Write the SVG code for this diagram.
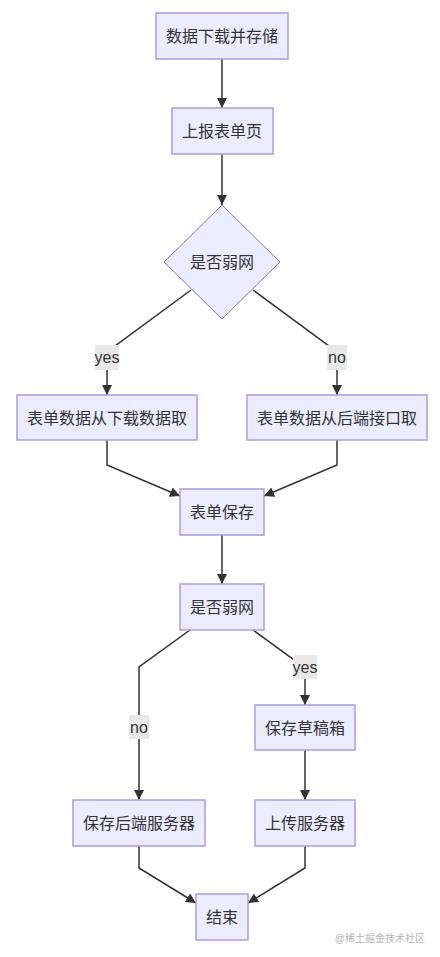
<svg xmlns="http://www.w3.org/2000/svg" width="440" height="957" viewBox="0 0 440 957">
<defs>
<style>
.node rect, .node polygon { fill: #ECECFF; stroke: #ab9ce3; stroke-width: 1.5; }
.node polygon { stroke: #9370DB; stroke-width: 1; }
text { font-family: "Liberation Sans", "Noto Sans CJK SC", sans-serif; font-size: 16px; fill: #333; text-anchor: middle; dominant-baseline: central; }
.edge { fill: none; stroke: #333; stroke-width: 1.5; }
.lbl rect { fill: #e8e8e8; stroke: none; }
.wm { font-size: 10px; fill: #b5b5b5; text-anchor: end; }
</style>
<marker id="arr" viewBox="0 0 10 10" refX="10" refY="5" markerWidth="10" markerHeight="10" markerUnits="userSpaceOnUse" orient="auto">
<path d="M0,0 L10,5 L0,10 z" fill="#333"/>
</marker>
</defs>
<rect width="440" height="957" fill="#fff"/>
<g id="edges">
<path class="edge" d="M222,59 L222,108" marker-end="url(#arr)"/>
<path class="edge" d="M222,154 L222,205" marker-end="url(#arr)"/>
<path class="edge" d="M191,290 L107,352 L107,395" marker-end="url(#arr)"/>
<path class="edge" d="M253,290 L337,352 L337,395" marker-end="url(#arr)"/>
<path class="edge" d="M107,440 L107,465 L180,496" marker-end="url(#arr)"/>
<path class="edge" d="M337,440 L337,465 L264,496" marker-end="url(#arr)"/>
<path class="edge" d="M222,535 L222,584" marker-end="url(#arr)"/>
<path class="edge" d="M190,630 L139,667 L139,800" marker-end="url(#arr)"/>
<path class="edge" d="M253,630 L305,668 L305,705" marker-end="url(#arr)"/>
<path class="edge" d="M305,750 L305,800" marker-end="url(#arr)"/>
<path class="edge" d="M139,846 L139,868 L196,903" marker-end="url(#arr)"/>
<path class="edge" d="M305,846 L305,868 L248,903" marker-end="url(#arr)"/>
<g class="lbl"><rect x="95" y="345" width="24" height="25"/><text x="107" y="357">yes</text></g>
<g class="lbl"><rect x="327" y="345" width="20" height="25"/><text x="337" y="357">no</text></g>
<g class="lbl"><rect x="129" y="715" width="20" height="24"/><text x="139" y="727">no</text></g>
<g class="lbl"><rect x="293" y="655" width="24" height="24"/><text x="305" y="667">yes</text></g>
</g>
<g id="n1" class="node"><rect x="156" y="13" width="132" height="46"/><text x="222" y="36">数据下载并存储</text></g>
<g id="n2" class="node"><rect x="172" y="108" width="101" height="46"/><text x="222" y="131">上报表单页</text></g>
<g id="n3" class="node"><polygon points="222,205 280,262 222,319 164,262"/><text x="222" y="262">是否弱网</text></g>
<g id="n4" class="node"><rect x="17" y="395" width="180" height="45"/><text x="107" y="418">表单数据从下载数据取</text></g>
<g id="n5" class="node"><rect x="247" y="395" width="180" height="45"/><text x="337" y="418">表单数据从后端接口取</text></g>
<g id="n6" class="node"><rect x="180" y="489" width="84" height="46"/><text x="222" y="512">表单保存</text></g>
<g id="n7" class="node"><rect x="180" y="584" width="84" height="46"/><text x="222" y="607">是否弱网</text></g>
<g id="n8" class="node"><rect x="255" y="705" width="100" height="45"/><text x="305" y="728">保存草稿箱</text></g>
<g id="n9" class="node"><rect x="73" y="800" width="132" height="46"/><text x="139" y="823">保存后端服务器</text></g>
<g id="n10" class="node"><rect x="255" y="800" width="100" height="46"/><text x="305" y="823">上传服务器</text></g>
<g id="n11" class="node"><rect x="196" y="894" width="52" height="46"/><text x="222" y="917">结束</text></g>
<text class="wm" x="425" y="938">@稀土掘金技术社区</text>
</svg>
